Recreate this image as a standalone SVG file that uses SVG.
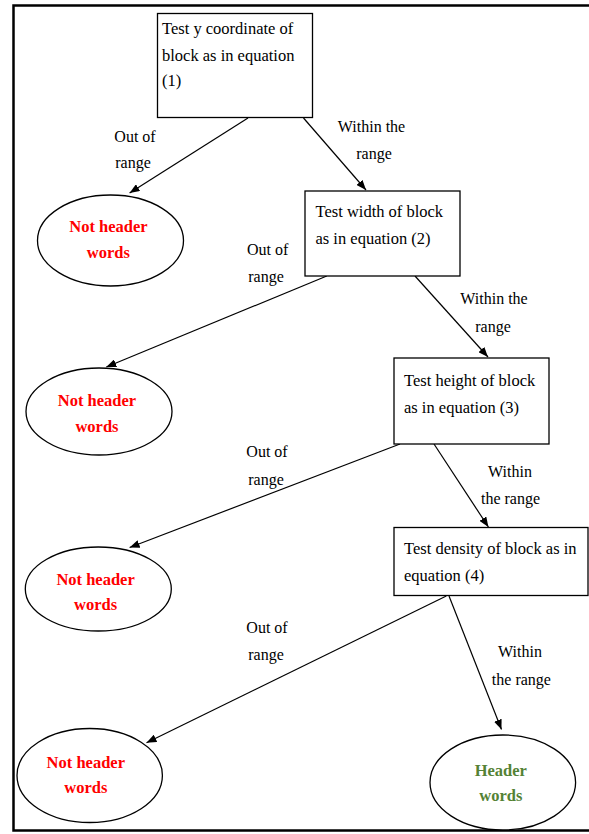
<svg xmlns="http://www.w3.org/2000/svg" width="589" height="834" viewBox="0 0 589 834">
<defs>
<marker id="arr" markerWidth="10" markerHeight="8" refX="10" refY="4" orient="auto" markerUnits="userSpaceOnUse">
<path d="M0,0 L10,4 L0,8 Z" fill="#000"/>
</marker>
<style>
.box{fill:#fff;stroke:#000;stroke-width:1.3}
.ell{fill:#fff;stroke:#000;stroke-width:1.3}
.bt{font-size:16.5px;fill:#000}
.lb{font-size:16px;fill:#000;text-anchor:middle}
.nh{font-size:16.5px;font-weight:bold;fill:#ff0000;text-anchor:middle}
.hw{font-size:16.5px;font-weight:bold;fill:#548235;text-anchor:middle}
.cn{stroke:#000;stroke-width:1.2;fill:none;marker-end:url(#arr)}
</style>
</defs>
<rect x="0" y="0" width="589" height="834" fill="#fff"/>
<rect x="13.5" y="5.5" width="590" height="825" fill="none" stroke="#000" stroke-width="2.5"/>

<g id="connectors">
<line class="cn" x1="248" y1="118" x2="129.6" y2="193"/>
<line class="cn" x1="303.5" y1="118" x2="366" y2="190"/>
<line class="cn" x1="326.8" y1="276" x2="106.3" y2="367"/>
<line class="cn" x1="415" y1="276" x2="488" y2="357"/>
<line class="cn" x1="400" y1="444" x2="129.6" y2="547.5"/>
<line class="cn" x1="434" y1="444" x2="488.4" y2="527"/>
<line class="cn" x1="446.3" y1="596" x2="146.5" y2="742.7"/>
<line class="cn" x1="449" y1="596" x2="501.5" y2="729.5"/>
<g font-family="Liberation Serif, serif">
<text class="lb" x="135" y="142">Out of</text>
<text class="lb" x="133" y="168">range</text>
<text class="lb" x="371.5" y="132">Within the</text>
<text class="lb" x="374" y="159">range</text>
<text class="lb" x="267.7" y="255">Out of</text>
<text class="lb" x="266" y="282">range</text>
<text class="lb" x="494" y="304">Within the</text>
<text class="lb" x="493" y="332">range</text>
<text class="lb" x="267" y="457">Out of</text>
<text class="lb" x="266" y="484.5">range</text>
<text class="lb" x="510" y="477">Within</text>
<text class="lb" x="510.5" y="503.5">the range</text>
<text class="lb" x="267" y="632.5">Out of</text>
<text class="lb" x="266" y="660">range</text>
<text class="lb" x="520" y="657">Within</text>
<text class="lb" x="521.4" y="684.5">the range</text>
</g>
</g>

<g font-family="Liberation Serif, serif">
<g id="box1">
<rect class="box" x="157.5" y="13.5" width="155" height="104"/>
<text class="bt" x="162" y="33.5">Test y coordinate of</text>
<text class="bt" x="162" y="60.5">block as in equation</text>
<text class="bt" x="162" y="85.5">(1)</text>
</g>
<g id="box2">
<rect class="box" x="305" y="191" width="155" height="85"/>
<text class="bt" x="315.5" y="217">Test width of block</text>
<text class="bt" x="315.5" y="244">as in equation (2)</text>
</g>
<g id="box3">
<rect class="box" x="394" y="358" width="155" height="86"/>
<text class="bt" x="404" y="385.5">Test height of block</text>
<text class="bt" x="404" y="413">as in equation (3)</text>
</g>
<g id="box4">
<rect class="box" x="394" y="527.5" width="194" height="68"/>
<text class="bt" x="404" y="554">Test density of block as in</text>
<text class="bt" x="404" y="580.5">equation (4)</text>
</g>

<g id="ell1">
<ellipse class="ell" cx="110.5" cy="240.5" rx="73" ry="45.5"/>
<text class="nh" x="108.4" y="232">Not header</text>
<text class="nh" x="108.4" y="258">words</text>
</g>
<g id="ell2">
<ellipse class="ell" cx="99" cy="411.5" rx="73" ry="43.5"/>
<text class="nh" x="97" y="405.5">Not header</text>
<text class="nh" x="97" y="431.5">words</text>
</g>
<g id="ell3">
<ellipse class="ell" cx="98.3" cy="589" rx="73" ry="42"/>
<text class="nh" x="95.6" y="584.5">Not header</text>
<text class="nh" x="95.6" y="610">words</text>
</g>
<g id="ell4">
<ellipse class="ell" cx="89.7" cy="775.5" rx="72.7" ry="47"/>
<text class="nh" x="85.8" y="767.5">Not header</text>
<text class="nh" x="85.8" y="792.5">words</text>
</g>
<g id="ell5">
<ellipse class="ell" cx="502.8" cy="782.5" rx="72.8" ry="47.5"/>
<text class="hw" x="500.8" y="775.5">Header</text>
<text class="hw" x="500.8" y="800.5">words</text>
</g>
</g>
</svg>
